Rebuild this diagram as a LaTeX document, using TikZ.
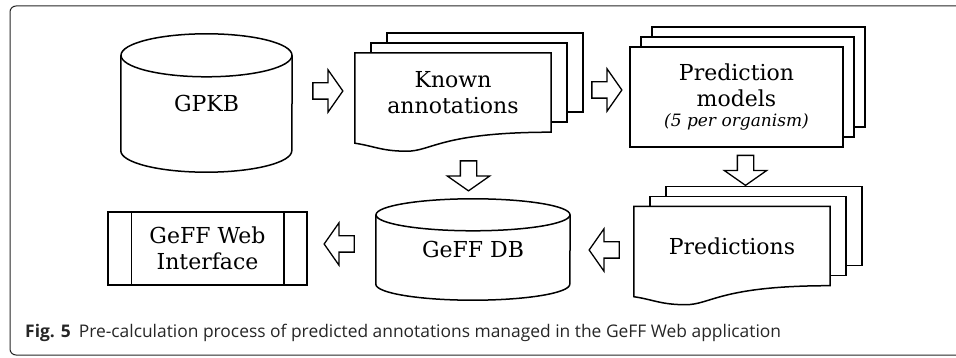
\documentclass[tikz,border=0pt]{standalone}
\usepackage{fontspec}
\setmainfont{DejaVu Serif}
\newfontfamily\capfont{Open Sans}
\usetikzlibrary{shapes.arrows,calc,backgrounds}

% database drum round a named node: name, half width, radius of the ends
\newcommand\dbshape[3]{%
  \draw[page] ($(#1.north west)+(0,#3)$) -- ($(#1.south west)+(0,-#3)$)
    arc[start angle=180, end angle=0, x radius=#2, y radius=#3] -- ($(#1.north east)+(0,#3)$);
  \draw[page] ($(#1.north)+(0,#3)$) ellipse[x radius=#2, y radius=#3];
}
% the two sheets behind a named node: name, dx, dy
\newcommand\pagestack[3]{%
  \draw[page] ($(#1.north west)+(2*#2,-2*#3)$) rectangle ($(#1.south east)+(2*#2,-2*#3)$);
  \draw[page] ($(#1.north west)+(#2,-#3)$) rectangle ($(#1.south east)+(#2,-#3)$);
}
% front sheet with a wavy lower edge
\newcommand\wavypage[1]{%
  \draw[page] (#1.north west) -- (#1.north east) -- (#1.south east)
    .. controls +(-110,0) and +(25,0) .. ($(#1.south west)+(52,19)$)
    .. controls +(-25,0) and +(20,3) .. ($(#1.south west)+(0,11)$) -- cycle;
}

\begin{document}
\begin{tikzpicture}[x=1pt,y=-1pt]
  \tikzset{
    lbl/.style = {font=\fontsize{22}{26}\selectfont, align=center, inner sep=0pt},
    page/.style = {draw, line width=1.5pt, fill=white},
    bigarrow/.style = {single arrow, draw, fill=white, line width=1.3pt, inner xsep=0pt,
      inner ysep=7.5pt, minimum height=30pt, minimum width=41pt, single arrow head extend=13pt,
      single arrow tip angle=110}
  }
  \useasboundingbox (0,0) rectangle (956,358);
  % frame of the figure
  \draw[black!85, line width=1pt, rounded corners=6pt] (10,6) rectangle (990,355);

  % stores and sheets
  \node[lbl, minimum width=171pt, minimum height=138pt] (gpkb) at (206.5,103) {GPKB};
  \node[lbl, minimum width=196pt, minimum height=79pt] (known) at (453,92.5) {Known\\annotations};
  \node[lbl, minimum width=213pt, minimum height=100pt] (models) at (736.5,97)
    {Prediction\\models\\[-6pt]{\fontsize{17}{20}\selectfont\itshape (5 per organism)}};
  \node[lbl, minimum width=196pt, minimum height=79pt] (preds) at (732,246) {Predictions};
  \node[lbl, minimum width=194pt, minimum height=101pt] (geffdb) at (473,249.5) {GeFF DB};
  \node[lbl, draw, line width=1.5pt, minimum width=199pt, minimum height=73pt] (web) at (207.5,248.5)
    {GeFF Web\\Interface};
  \draw[line width=1.5pt] ($(web.north west)+(24,0)$) -- ($(web.south west)+(24,0)$);
  \draw[line width=1.5pt] ($(web.north east)+(-24,0)$) -- ($(web.south east)+(-24,0)$);

  \begin{scope}[on background layer]
    \dbshape{gpkb}{85.5}{21.5}
    \dbshape{geffdb}{97}{16}
    \pagestack{known}{16}{10}
    \wavypage{known}
    \pagestack{models}{11}{10}
    \draw[page] (models.north west) rectangle (models.south east);
    \pagestack{preds}{16}{10}
    \wavypage{preds}
  \end{scope}

  % flow arrows
  \node[bigarrow] (toknown) at (325,91) {};
  \node[bigarrow] (tomodels) at (604,90) {};
  \node[bigarrow, rotate=270] (topreds) at (745.5,167.5) {};
  \node[bigarrow, rotate=270] (todb) at (468.5,173) {};
  \node[bigarrow, rotate=180] (predstodb) at (607,250) {};
  \node[bigarrow, rotate=180] (dbtoweb) at (342,244) {};

  % caption
  \node[anchor=base west, inner sep=0pt, text=black!85, font=\capfont\fontsize{17.4}{20}\selectfont] (caption) at (25,337)
    {\textbf{Fig. 5}\hspace{8pt}Pre-calculation process of predicted annotations managed in the GeFF Web application};
\end{tikzpicture}
\end{document}
